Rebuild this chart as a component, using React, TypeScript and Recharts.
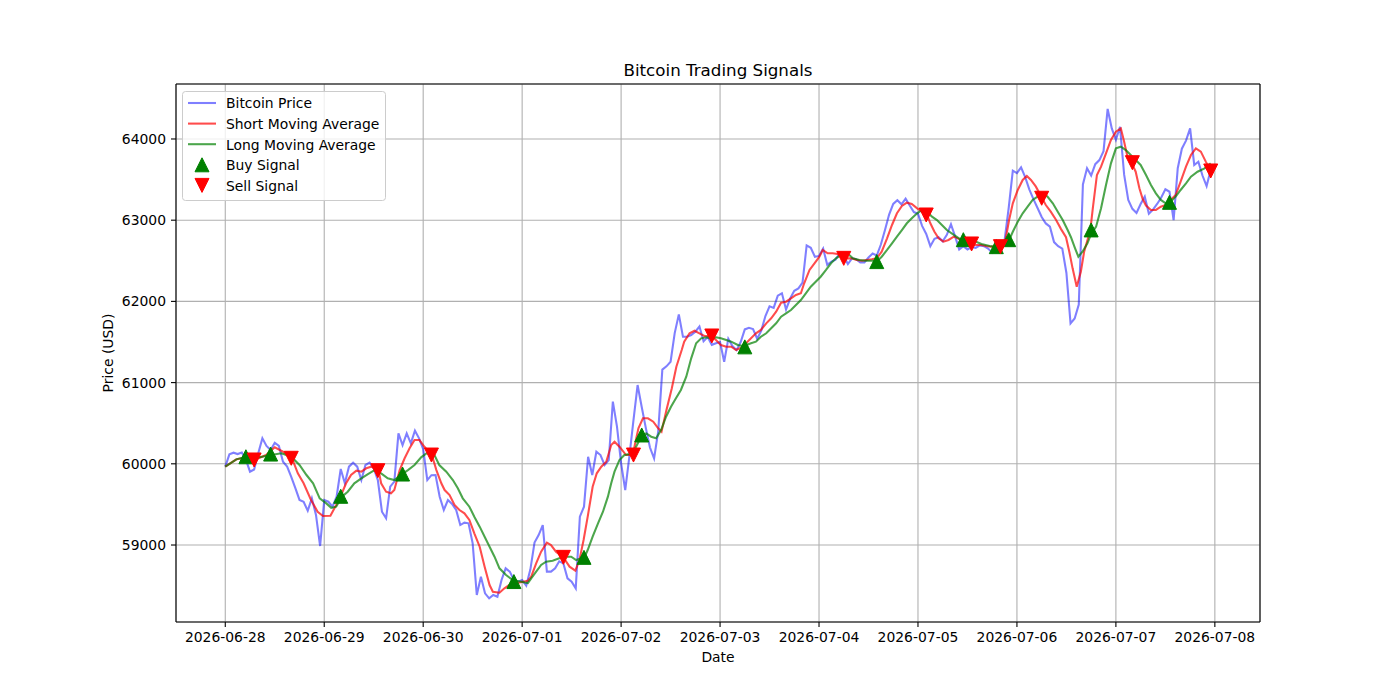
import { ComposedChart, Line, Scatter, XAxis, YAxis, CartesianGrid, ReferenceLine } from 'recharts';

// hours since 2026-06-28 00:00, one tick per day
const dateLabels = [
  '2026-06-28', '2026-06-29', '2026-06-30', '2026-07-01', '2026-07-02', '2026-07-03',
  '2026-07-04', '2026-07-05', '2026-07-06', '2026-07-07', '2026-07-08',
];
const hourTicks = [0, 24, 48, 72, 96, 120, 144, 168, 192, 216, 240];
const priceTicks = [59000, 60000, 61000, 62000, 63000, 64000];

// hourly close
const prices = [
  59965, 60117, 60137, 60120, 60140, 60050, 59903, 59930, 60130, 60314, 60220, 60170,
  60260, 60220, 60026, 59965, 59840, 59700, 59555, 59533, 59422, 59575, 59370, 58988,
  59554, 59533, 59472, 59595, 59936, 59760, 59965, 60014, 59965, 59800, 59985, 60014,
  59945, 59800, 59410, 59329, 59718, 59780, 60375, 60231, 60375, 60252, 60408, 60314,
  60180, 59800, 59860, 59862, 59595, 59431, 59554, 59505, 59431, 59246, 59275, 59267,
  59021, 58384, 58610, 58405, 58343, 58384, 58363, 58569, 58713, 58672, 58569, 58548,
  58569, 58500, 58700, 59030, 59123, 59246, 58672, 58672, 58713, 58800, 58774, 58590,
  58548, 58466, 59349, 59472, 60087, 59862, 60149, 60108, 59985, 60047, 60765, 60457,
  60006, 59677, 60087, 60539, 60970, 60700, 60440, 60200, 60067, 60400, 61160, 61200,
  61257, 61610, 61840, 61565, 61565, 61586, 61627, 61690, 61510, 61560, 61465, 61484,
  61500, 61257, 61540, 61450, 61400, 61500, 61655, 61675, 61660, 61540, 61640, 61820,
  61940, 61920, 62070, 62100, 61900, 62035, 62130, 62160, 62230, 62690, 62660, 62550,
  62560, 62650, 62450, 62490, 62515, 62590, 62560, 62460, 62530, 62520, 62480, 62480,
  62540, 62590, 62565, 62700, 62879, 63070, 63200, 63245, 63195, 63265, 63180, 63100,
  63080, 62930, 62830, 62680, 62770, 62790, 62740, 62820, 62950, 62800, 62640, 62680,
  62640, 62670, 62660, 62690, 62680, 62650, 62600, 62690, 62720, 62750, 63150, 63610,
  63580, 63650, 63530, 63380, 63260, 63150, 63040, 62960, 62920, 62730, 62680, 62650,
  62350, 61730, 61790, 61960, 63440, 63640, 63550, 63690, 63740, 63850, 64370, 64130,
  63990, 64150, 63560, 63250, 63140, 63090, 63200, 63290, 63080, 63130, 63200, 63280,
  63380, 63350, 63000, 63640, 63880, 63980, 64130, 63680, 63720, 63550, 63420, 63620,
];

// [hour, value] traced along the short moving average
const shortMa: [number, number][] = [
  [0, 59965], [2.7, 60055], [5, 60075], [7.1, 60047], [9.9, 60108], [12, 60203], [14, 60149],
  [16.2, 60068], [17.6, 59883], [19, 59760], [20.8, 59554], [22.4, 59410], [23.7, 59357],
  [25.5, 59360], [26.9, 59493], [28.1, 59616], [29.3, 59760], [30.5, 59862], [31.8, 59915],
  [33, 59903], [34.2, 59945], [35.4, 59965], [37.2, 59915], [37.8, 59760], [39, 59657],
  [40.2, 59637], [41, 59677], [42.3, 59923], [43.5, 60068], [44.7, 60191], [45.9, 60293],
  [47.1, 60293], [48.3, 60210], [50.1, 60108], [51.2, 59923], [52.4, 59760], [53.2, 59677],
  [54.4, 59616], [55.6, 59493], [56.8, 59431], [58, 59390], [59.2, 59308], [60.4, 59144],
  [61.7, 58979], [62.9, 58733], [64.1, 58507], [64.9, 58425], [66.5, 58413], [67.7, 58467],
  [68.9, 58507], [70.5, 58530], [72.2, 58548], [73.4, 58560], [74.2, 58610], [75.4, 58775],
  [76.6, 58918], [78, 59030], [79, 59000], [80.2, 58918], [82, 58848], [83.5, 58733],
  [84.9, 58684], [85.9, 58815], [86.9, 59062], [87.9, 59349], [89.1, 59718], [90.1, 59883],
  [91.2, 59965], [92.4, 60026], [93.6, 60232], [94.4, 60272], [95.6, 60211], [97.2, 60108],
  [98.8, 60108], [100.2, 60437], [101.3, 60560], [102.5, 60560], [103.8, 60519], [105, 60437],
  [105.8, 60396], [107, 60663], [108.3, 60930], [109.4, 61196], [110.7, 61401], [111.3, 61504],
  [112.6, 61607], [113.8, 61639], [115, 61607], [116.2, 61574], [117.8, 61574], [119, 61525],
  [120.2, 61463], [121.5, 61442], [122.7, 61442], [123.9, 61401], [125.1, 61430], [126.3, 61484],
  [127.5, 61545], [128.7, 61607], [129.9, 61648], [131.2, 61730], [132.4, 61792], [133.6, 61873],
  [134.8, 61984], [136, 61996], [137.2, 62038], [138.4, 62079], [139.6, 62100], [140.4, 62223],
  [141.7, 62387], [142.9, 62469], [144.1, 62550], [144.9, 62633], [146.1, 62592], [147.3, 62592],
  [148.5, 62584], [149.9, 62530], [151.9, 62530], [153.1, 62510], [154.4, 62501], [155.6, 62510],
  [156.8, 62518], [158, 62530], [159.2, 62612], [160.5, 62777], [161.7, 62941], [162.9, 63085],
  [164.1, 63175], [165.3, 63215], [166.5, 63200], [167.8, 63146], [169, 63105], [170.2, 63064],
  [171, 62962], [172, 62858], [173, 62777], [174.2, 62735], [175.4, 62756], [176.7, 62797],
  [177.9, 62770], [179.6, 62715], [180.8, 62707], [182.1, 62694], [183.3, 62694], [184.5, 62682],
  [185.7, 62674], [187.6, 62674], [188.5, 62694], [189.3, 62777], [190.1, 63002], [191, 63208],
  [192.2, 63372], [193.4, 63495], [194.4, 63544], [195.4, 63495], [196.6, 63413], [198.1, 63270],
  [199, 63187], [200.2, 63105], [201.5, 63002], [202.7, 62890], [203.9, 62790], [204.7, 62612],
  [205.5, 62407], [206.5, 62181], [207.5, 62366], [208.3, 62612], [209.8, 62879], [210.4, 63146],
  [211.4, 63557], [212.4, 63659], [213.6, 63824], [214.8, 63988], [216, 64090], [217.2, 64131],
  [218, 63967], [218.8, 63782], [219.8, 63708], [220.8, 63597], [221.7, 63393], [222.5, 63260],
  [223.3, 63180], [224.5, 63126], [225.7, 63126], [226.9, 63166], [228.1, 63187], [228.7, 63220],
  [230.5, 63310], [231.7, 63474], [233, 63659], [234.2, 63803], [235.4, 63885], [236.6, 63844],
  [237.8, 63721], [239, 63610],
];

// [hour, value] traced along the long moving average
const longMa: [number, number][] = [
  [0, 59965], [2.7, 60055], [4.9, 60087], [8.3, 60080], [11.1, 60108], [13.6, 60129], [16, 60087],
  [18, 59985], [19.7, 59862], [21.3, 59760], [22.9, 59575], [24.5, 59513], [25.7, 59458],
  [26.9, 59472], [28.3, 59595], [29.7, 59657], [31.3, 59760], [33, 59821], [34.6, 59874],
  [36.2, 59923], [37.8, 59883], [39.4, 59821], [41, 59800], [42.9, 59874], [44.3, 59923],
  [45.9, 59985], [47.5, 60080], [49.1, 60140], [50.7, 60110], [51.9, 59985], [53.6, 59903],
  [55.2, 59800], [56.4, 59698], [57.6, 59575], [59.2, 59472], [60.4, 59349], [61.7, 59226],
  [62.9, 59102], [64.1, 58979], [65.3, 58856], [66.5, 58713], [68.1, 58631], [69.7, 58569],
  [71.8, 58548], [73.4, 58530], [74.2, 58590], [75.4, 58672], [76.6, 58754], [77.8, 58795],
  [79.4, 58807], [81, 58836], [82.7, 58856], [83.9, 58856], [85.1, 58815], [87.1, 58848],
  [87.9, 58938], [89.1, 59102], [90.4, 59267], [91.6, 59410], [92.8, 59595], [93.6, 59760],
  [94.4, 59903], [95.6, 60047], [96.8, 60108], [98, 60121], [99.2, 60170], [101.1, 60355],
  [102.1, 60375], [103.3, 60334], [104.5, 60314], [105.7, 60416], [106.9, 60580], [108.1, 60703],
  [109.3, 60807], [110.5, 60909], [111.8, 61073], [113, 61299], [114.2, 61484], [115.4, 61545],
  [116.6, 61558], [117.8, 61545], [119, 61558], [120.2, 61545], [121.5, 61525], [122.7, 61504],
  [124.3, 61463], [125.7, 61450], [127.5, 61484], [128.7, 61504], [129.9, 61565], [131.2, 61607],
  [132.4, 61668], [133.6, 61730], [134.8, 61812], [136, 61853], [137.2, 61894], [138.4, 61956],
  [139.6, 62017], [140.8, 62100], [142, 62181], [143.2, 62243], [144.4, 62304], [145.7, 62387],
  [146.9, 62469], [148.1, 62530], [149.3, 62571], [150.9, 62592], [152.2, 62530], [153.8, 62510],
  [155.4, 62501], [157, 62501], [158, 62489], [159.2, 62550], [160.5, 62633], [161.7, 62715],
  [162.9, 62797], [164.1, 62879], [165.3, 62962], [166.5, 63023], [167.8, 63085], [169, 63126],
  [170.2, 63105], [171.4, 63043], [172.6, 63002], [173.8, 62941], [175, 62879], [176.7, 62818],
  [178.4, 62760], [180.4, 62748], [182.1, 62735], [183.4, 62707], [185.4, 62682], [186.6, 62674],
  [188.1, 62674], [190.1, 62756], [191, 62858], [192.2, 62981], [193.4, 63085], [194.6, 63166],
  [195.8, 63249], [197, 63290], [198.2, 63331], [199.4, 63290], [200.7, 63208], [201.9, 63105],
  [203.1, 63002], [204.3, 62879], [205.1, 62790], [206.1, 62654], [206.9, 62550], [207.9, 62612],
  [209.1, 62715], [209.9, 62818], [211.2, 62920], [212.4, 63146], [213.6, 63434], [214.8, 63700],
  [216, 63885], [217.2, 63905], [218.4, 63864], [219.6, 63803], [220.8, 63741], [222, 63680],
  [223.3, 63557], [224.5, 63434], [225.7, 63331], [226.9, 63249], [228.1, 63208], [229.3, 63228],
  [230.5, 63290], [231.7, 63372], [233, 63454], [234.2, 63536], [235.8, 63597], [237.5, 63638],
  [239, 63700],
];

const buyHours = [5, 11, 28, 43, 70, 87, 101, 126, 158, 179, 187, 190, 210, 229];
const buyValues = [60087, 60120, 59600, 59874, 58550, 58848, 60355, 61440, 62490, 62760, 62674, 62760, 62880, 63220];
const sellHours = [7, 16, 37, 50, 82, 99, 118, 150, 170, 181, 188, 198, 220, 239];
const sellValues = [60047, 60068, 59915, 60108, 58848, 60108, 61574, 62530, 63064, 62707, 62674, 63270, 63708, 63606];

const priceData = prices.map((v, t) => ({ t, v }));
const shortData = shortMa.map(([t, v]) => ({ t, v }));
const longData = longMa.map(([t, v]) => ({ t, v }));
const buyData = buyHours.map((t, i) => ({ t, v: buyValues[i] }));
const sellData = sellHours.map((t, i) => ({ t, v: sellValues[i] }));

const X_DOMAIN: [number, number] = [-11.95, 250.95];
const Y_DOMAIN: [number, number] = [58052, 64677];
const FONT = 'DejaVu Sans, sans-serif';
const LW = 2.08; // 1.5pt at 100 dpi
const tickStyle = { fontSize: 13.9, fill: '#000', fontFamily: FONT };

const upPath = (cx: number, cy: number, r: number) =>
  `M${cx},${cy - r} L${cx + r},${cy + r} L${cx - r},${cy + r} Z`;
const downPath = (cx: number, cy: number, r: number) =>
  `M${cx},${cy + r} L${cx + r},${cy - r} L${cx - r},${cy - r} Z`;

const BuyMarker = (props: any) => (
  <path d={upPath(props.cx, props.cy, 7)} fill="#008000" stroke="#008000" strokeWidth={1} />
);
const SellMarker = (props: any) => (
  <path d={downPath(props.cx, props.cy, 7)} fill="#ff0000" stroke="#ff0000" strokeWidth={1} />
);

const legendRows = [
  { label: 'Bitcoin Price', kind: 'line', color: '#0000ff', opacity: 0.5 },
  { label: 'Short Moving Average', kind: 'line', color: '#ff0000', opacity: 0.7 },
  { label: 'Long Moving Average', kind: 'line', color: '#008000', opacity: 0.7 },
  { label: 'Buy Signal', kind: 'up', color: '#008000', opacity: 1 },
  { label: 'Sell Signal', kind: 'down', color: '#ff0000', opacity: 1 },
];

function LegendBox() {
  return (
    <svg
      width={205}
      height={111}
      style={{ position: 'absolute', left: 182, top: 91, overflow: 'visible' }}
    >
      <rect x={0.5} y={0.5} width={203} height={109} rx={3} fill="#fff" fillOpacity={0.8} stroke="#cccccc" />
      {legendRows.map((r, i) => {
        const cy = 12 + i * 20.6;
        return (
          <g key={r.label}>
            {r.kind === 'line' && (
              <line x1={6} x2={34} y1={cy} y2={cy} stroke={r.color} strokeOpacity={r.opacity} strokeWidth={LW} />
            )}
            {r.kind === 'up' && <path d={upPath(20, cy, 7)} fill={r.color} stroke={r.color} />}
            {r.kind === 'down' && <path d={downPath(20, cy, 7)} fill={r.color} stroke={r.color} />}
            <text x={44} y={cy + 5.3} fontSize={13.9} fontFamily={FONT} fill="#000">
              {r.label}
            </text>
          </g>
        );
      })}
    </svg>
  );
}

export default function App() {
  return (
    <div style={{ position: 'absolute', left: 0, top: 0, width: 1400, height: 700, background: '#fff', fontFamily: FONT }}>
      <div
        style={{
          position: 'absolute', left: 0, top: 60, width: 1436, textAlign: 'center',
          fontSize: 16.7, lineHeight: '20px', color: '#000',
        }}
      >
        Bitcoin Trading Signals
      </div>
      <ComposedChart width={1400} height={700} margin={{ top: 84, right: 140, bottom: 48, left: 108 }}>
        <CartesianGrid stroke="#b0b0b0" strokeWidth={1.1} />
        <XAxis
          dataKey="t"
          type="number"
          domain={X_DOMAIN}
          allowDataOverflow
          ticks={hourTicks}
          interval={0}
          tickFormatter={(h: number) => dateLabels[Math.round(h / 24)]}
          tick={tickStyle}
          tickSize={5}
          tickMargin={5}
          height={30}
          stroke="#000"
          strokeWidth={1.1}
          label={{ value: 'Date', position: 'bottom', offset: 0, style: { fontSize: 13.9, fill: '#000', fontFamily: FONT } }}
        />
        <YAxis
          dataKey="v"
          type="number"
          domain={Y_DOMAIN}
          allowDataOverflow
          ticks={priceTicks}
          interval={0}
          tick={tickStyle}
          tickSize={5}
          tickMargin={5}
          width={68}
          stroke="#000"
          strokeWidth={1.1}
          label={{
            value: 'Price (USD)', angle: -90, position: 'insideLeft', offset: 0,
            style: { textAnchor: 'middle', fontSize: 13.9, fill: '#000', fontFamily: FONT },
          }}
        />
        <ReferenceLine y={Y_DOMAIN[1]} stroke="#000" strokeWidth={1.1} />
        <ReferenceLine x={X_DOMAIN[1]} stroke="#000" strokeWidth={1.1} />
        <Line data={priceData} dataKey="v" type="linear" stroke="#0000ff" strokeOpacity={0.5} strokeWidth={LW} dot={false} isAnimationActive={false} />
        <Line data={shortData} dataKey="v" type="linear" stroke="#ff0000" strokeOpacity={0.7} strokeWidth={LW} dot={false} isAnimationActive={false} />
        <Line data={longData} dataKey="v" type="linear" stroke="#008000" strokeOpacity={0.7} strokeWidth={LW} dot={false} isAnimationActive={false} />
        <Scatter data={buyData} dataKey="v" shape={BuyMarker} isAnimationActive={false} />
        <Scatter data={sellData} dataKey="v" shape={SellMarker} isAnimationActive={false} />
      </ComposedChart>
      <LegendBox />
    </div>
  );
}
